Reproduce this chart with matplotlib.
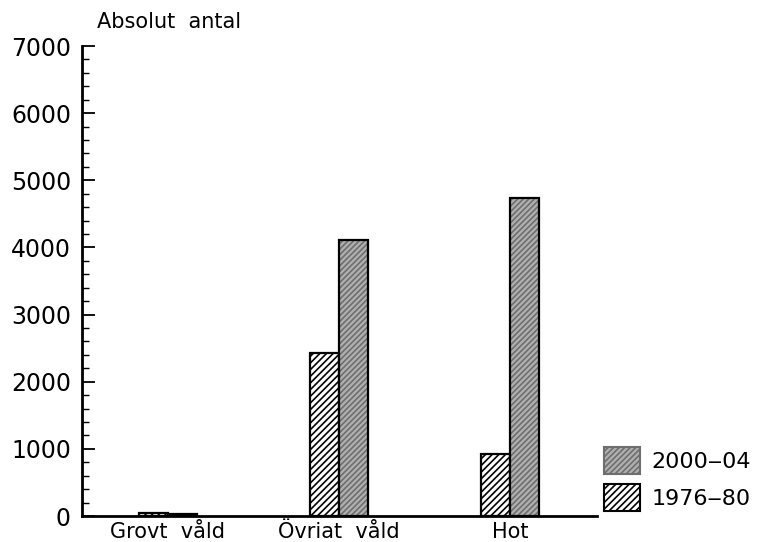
import numpy as np
import matplotlib
matplotlib.use('Agg')
import matplotlib.pyplot as plt
from matplotlib.patches import Patch

categories = ['Grovt  våld', 'Övriat  våld', 'Hot']
p1976 = [45, 2430, 920]
p2000 = [35, 4110, 4730]
labels = ['2000\u201204', '1976\u201280']

plt.rcParams['font.family'] = 'DejaVu Sans'
plt.rcParams['hatch.linewidth'] = 1.2

fig = plt.figure(figsize=(7.62, 5.42), dpi=100)
ax = fig.add_axes([82/762, 1-516/542, (597-82)/762, (516-46)/542])

x = np.arange(len(categories))
w = 0.17
gray_face, gray_hatch = '#b0b0b0', '#6e6e6e'
# hatched old period
ax.bar(x - w/2, p1976, w, color='white', edgecolor='black', hatch='/////', linewidth=0)
ax.bar(x - w/2, p1976, w, color='none', edgecolor='black', linewidth=1.6)
# gray stippled new period
ax.bar(x + w/2, p2000, w, color=gray_face, edgecolor=gray_hatch, hatch='//////', linewidth=0)
ax.bar(x + w/2, p2000, w, color='none', edgecolor='black', linewidth=1.6)

ax.set_xlim(-0.503, 2.51)
ax.set_ylim(0, 7000)
ax.set_yticks(np.arange(0, 7001, 1000))
ax.set_yticks(np.arange(0, 7001, 200), minor=True)
ax.tick_params(axis='y', direction='in', length=9, width=1.3, labelsize=17, pad=8)
ax.tick_params(axis='y', which='minor', direction='in', length=5, width=1)
ax.set_xticks(x)
ax.set_xticklabels(categories, fontsize=15)
ax.tick_params(axis='x', length=0, pad=4)
for s in ['top', 'right']:
    ax.spines[s].set_visible(False)
ax.spines['left'].set_linewidth(2)
ax.spines['bottom'].set_linewidth(2)

fig.text(97/762, 1-22/542, 'Absolut  antal', fontsize=15, va='center', ha='left')

handles = [Patch(facecolor=gray_face, edgecolor=gray_hatch, hatch='//////'),
           Patch(facecolor='white', edgecolor='black', hatch='/////')]
leg = fig.legend(handles, labels, loc='upper left', bbox_to_anchor=(584/762, 1-427/542),
                 frameon=False, fontsize=16, handlelength=1.6, handleheight=1.5,
                 labelspacing=0.45, handletextpad=0.55)
for p in leg.get_patches():
    p.set_linewidth(1.5)

fig.savefig('out.png', dpi=100)
